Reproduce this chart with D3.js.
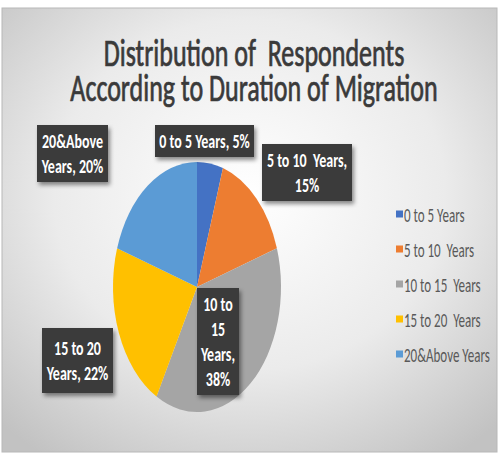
<!DOCTYPE html>
<html>
<head>
<meta charset="utf-8">
<script src="https://cdn.jsdelivr.net/npm/d3@7"></script>
<style>
  html, body { margin: 0; padding: 0; background: #fff; }
  svg { display: block; }
  text { white-space: pre; }
</style>
</head>
<body>
<script>
"use strict";
(function(){
    // chart data
    const categories = ["0 to 5 Years", "5 to 10  Years", "10 to 15  Years", "15 to 20  Years", "20&Above Years"];
    const values = [5, 15, 38, 22, 20];
    const colorList = ["#4472C4", "#ED7D31", "#A5A5A5", "#FFC000", "#5B9BD5"];
    const titleLines = ["Distribution of  Respondents", "According to Duration of Migration"];

    const measurements = {
        width: 499,
        height: 453,
        cx: 197,
        cy: 287,
        rx: 84,
        ry: 125
    }
    // the picture is stretched vertically, text too
    const SY = measurements.ry / measurements.rx;
    const font = "Carlito, 'Liberation Sans Narrow', 'Arial Narrow', sans-serif";

    // data label boxes (layout only)
    const labelBoxes = [
        {x: 155, y: 125, w: 99, h: 32, words: [5]},
        {x: 262, y: 144, w: 90, h: 57, words: [4, 1]},
        {x: 197, y: 288, w: 42, h: 107, words: [2, 1, 1, 1]},
        {x: 42, y: 328, w: 71, h: 65, words: [3, 2]},
        {x: 37, y: 125, w: 71, h: 57, words: [1, 2]}
    ];

    const svg = d3.select("body").append("svg")
        .attr("width", measurements.width)
        .attr("height", measurements.height);

    const defs = svg.append("defs");
    const grad = defs.append("radialGradient")
        .attr("id", "bg")
        .attr("cx", "50%").attr("cy", "42%").attr("r", "72%");
    grad.append("stop").attr("offset", "0%").attr("stop-color", "#ffffff");
    grad.append("stop").attr("offset", "55%").attr("stop-color", "#ebebeb");
    grad.append("stop").attr("offset", "100%").attr("stop-color", "#c2c2c2");

    const shadow = defs.append("filter").attr("id", "shadow")
        .attr("x", "-20%").attr("y", "-20%").attr("width", "150%").attr("height", "150%");
    shadow.append("feDropShadow")
        .attr("dx", 2).attr("dy", 3).attr("stdDeviation", 2)
        .attr("flood-color", "#000").attr("flood-opacity", 0.45);

    svg.append("rect")
        .attr("x", 2).attr("y", 8)
        .attr("width", 495).attr("height", 444)
        .attr("fill", "url(#bg)")
        .attr("stroke", "#b8b8b8")
        .attr("stroke-width", 1);

    function addText(parent, x, y, str, size) {
        return parent.append("text")
            .attr("transform", `translate(${x},${y}) scale(1,${SY})`)
            .attr("dy", "0.35em")
            .style("font-family", font)
            .style("font-size", size + "px")
            .text(str);
    }

    // title
    const titleY = [52, 87];
    titleLines.forEach((t, i) => {
        addText(svg, 254, titleY[i], t, 26)
            .attr("text-anchor", "middle")
            .attr("fill", "#3a3a3a")
            .attr("stroke", "#3a3a3a")
            .attr("stroke-width", 0.5);
    });

    // pie
    const pie = d3.pie().sort(null).value(d => d);
    const arc = d3.arc().innerRadius(0).outerRadius(measurements.ry);
    const pieG = svg.append("g")
        .attr("transform", `translate(${measurements.cx},${measurements.cy}) scale(${measurements.rx / measurements.ry},1)`);
    pieG.selectAll("path")
        .data(pie(values))
        .enter()
        .append("path")
        .attr("d", arc)
        .attr("fill", (d, i) => colorList[i]);

    // data labels
    labelBoxes.forEach((b, i) => {
        const g = svg.append("g");
        g.append("rect")
            .attr("x", b.x).attr("y", b.y)
            .attr("width", b.w).attr("height", b.h)
            .attr("fill", "#3a3a3a")
            .attr("filter", "url(#shadow)");
        const words = `${categories[i]}, ${values[i]}%`.split(" ");
        let lines = [];
        let k = 0;
        b.words.forEach(n => {
            let ln = [];
            while (ln.filter(w => w !== "").length < n && k < words.length) ln.push(words[k++]);
            while (k < words.length && words[k] === "") k++;
            lines.push(ln.join(" "));
        });
        const step = 25;
        const mid = b.y + b.h / 2;
        lines.forEach((ln, j) => {
            addText(g, b.x + b.w / 2, mid + (j - (lines.length - 1) / 2) * step, ln, 14)
                .attr("text-anchor", "middle")
                .attr("fill", "#ffffff")
                .style("font-weight", "bold");
        });
    });

    // legend
    const legend = svg.append("g");
    categories.forEach((c, i) => {
        const y = 214 + i * 35;
        legend.append("rect")
            .attr("x", 396).attr("y", y - 3.5)
            .attr("width", 7).attr("height", 7)
            .attr("fill", colorList[i]);
        addText(legend, 404, y + 1, c, 13)
            .attr("fill", "#595959");
    });
})()
</script>
</body>
</html>
